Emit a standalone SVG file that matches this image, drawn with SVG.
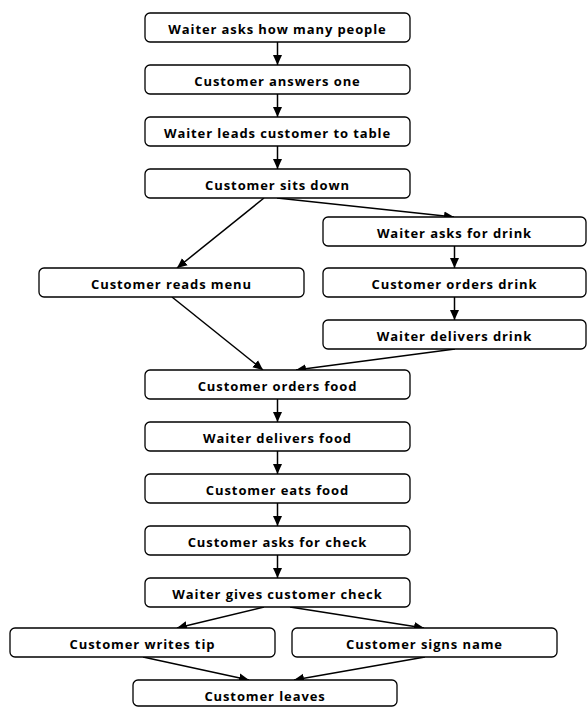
<svg xmlns="http://www.w3.org/2000/svg" width="587" height="707" viewBox="0 0 587 707">
<defs>
<marker id="ah" viewBox="0 0 10 10" refX="10" refY="5" markerWidth="10" markerHeight="10" markerUnits="userSpaceOnUse" orient="auto">
<path d="M0,0.5 L10,5 L0,9.5 z" fill="#000"/>
</marker>
<style>
.box{fill:#fff;stroke:#000;stroke-width:1.3}
.lbl{font-family:"Open Sans","Liberation Sans",sans-serif;font-weight:bold;font-size:13px;letter-spacing:0.9px;text-anchor:middle;fill:#000}
.c{stroke:#000;stroke-width:1.5;fill:none;marker-end:url(#ah)}
</style>
</defs>
<rect width="587" height="707" fill="#fff"/>
<g id="connectors">
<line class="c" x1="277.5" y1="42" x2="277.5" y2="65"/>
<line class="c" x1="277.5" y1="94" x2="277.5" y2="117"/>
<line class="c" x1="277.5" y1="146" x2="277.5" y2="169"/>
<line class="c" x1="264" y1="198" x2="177" y2="268"/>
<line class="c" x1="277" y1="198" x2="454" y2="217"/>
<line class="c" x1="454.5" y1="246" x2="454.5" y2="268"/>
<line class="c" x1="454.5" y1="297" x2="454.5" y2="320"/>
<line class="c" x1="172" y1="297" x2="263" y2="370"/>
<line class="c" x1="455" y1="349" x2="296" y2="370"/>
<line class="c" x1="277.5" y1="399" x2="277.5" y2="422"/>
<line class="c" x1="277.5" y1="451" x2="277.5" y2="474"/>
<line class="c" x1="277.5" y1="503" x2="277.5" y2="526"/>
<line class="c" x1="277.5" y1="555" x2="277.5" y2="578"/>
<line class="c" x1="264" y1="607" x2="177" y2="628"/>
<line class="c" x1="290" y1="607" x2="424" y2="628"/>
<line class="c" x1="143" y1="657" x2="249" y2="680"/>
<line class="c" x1="425" y1="657" x2="294" y2="680"/>
</g>
<g id="n1"><rect class="box" x="145" y="13" width="265" height="29" rx="5"/><text class="lbl" x="277.5" y="33.5">Waiter asks how many people</text></g>
<g id="n2"><rect class="box" x="145" y="65" width="265" height="29" rx="5"/><text class="lbl" x="277.5" y="85.5">Customer answers one</text></g>
<g id="n3"><rect class="box" x="145" y="117" width="265" height="29" rx="5"/><text class="lbl" x="277.5" y="137.5">Waiter leads customer to table</text></g>
<g id="n4"><rect class="box" x="145" y="169" width="265" height="29" rx="5"/><text class="lbl" x="277.5" y="189.5">Customer sits down</text></g>
<g id="n5"><rect class="box" x="323" y="217" width="263" height="29" rx="5"/><text class="lbl" x="454.5" y="237.5">Waiter asks for drink</text></g>
<g id="n6"><rect class="box" x="39" y="268" width="265" height="29" rx="5"/><text class="lbl" x="171.5" y="288.5">Customer reads menu</text></g>
<g id="n7"><rect class="box" x="323" y="268" width="263" height="29" rx="5"/><text class="lbl" x="454.5" y="288.5">Customer orders drink</text></g>
<g id="n8"><rect class="box" x="323" y="320" width="263" height="29" rx="5"/><text class="lbl" x="454.5" y="340.5">Waiter delivers drink</text></g>
<g id="n9"><rect class="box" x="145" y="370" width="265" height="29" rx="5"/><text class="lbl" x="277.5" y="390.5">Customer orders food</text></g>
<g id="n10"><rect class="box" x="145" y="422" width="265" height="29" rx="5"/><text class="lbl" x="277.5" y="442.5">Waiter delivers food</text></g>
<g id="n11"><rect class="box" x="145" y="474" width="265" height="29" rx="5"/><text class="lbl" x="277.5" y="494.5">Customer eats food</text></g>
<g id="n12"><rect class="box" x="145" y="526" width="265" height="29" rx="5"/><text class="lbl" x="277.5" y="546.5">Customer asks for check</text></g>
<g id="n13"><rect class="box" x="145" y="578" width="265" height="29" rx="5"/><text class="lbl" x="277.5" y="598.5">Waiter gives customer check</text></g>
<g id="n14"><rect class="box" x="10" y="628" width="265" height="29" rx="5"/><text class="lbl" x="142.5" y="648.5">Customer writes tip</text></g>
<g id="n15"><rect class="box" x="292" y="628" width="265" height="29" rx="5"/><text class="lbl" x="424.5" y="648.5">Customer signs name</text></g>
<g id="n16"><rect class="box" x="133" y="680" width="264" height="26" rx="5"/><text class="lbl" x="265" y="700.5">Customer leaves</text></g>
</svg>
